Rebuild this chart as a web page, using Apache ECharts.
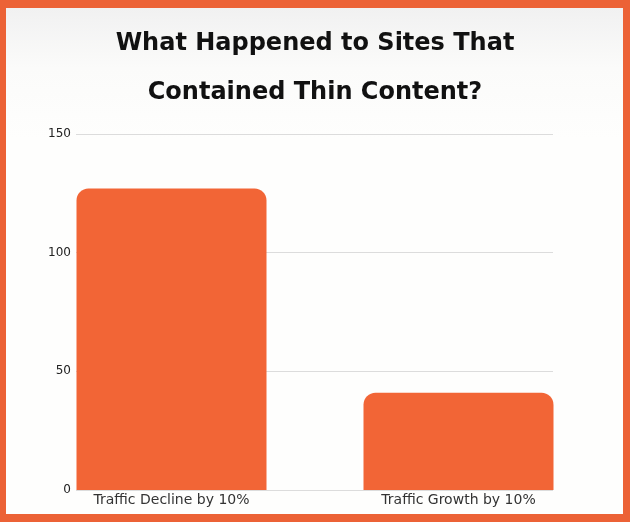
<!DOCTYPE html>
<html>
<head>
<meta charset="utf-8">
<script src="https://cdn.jsdelivr.net/npm/echarts@6/dist/echarts.min.js"></script>
<style>
  html, body { margin: 0; padding: 0; }
  body { width: 630px; height: 522px; background: #ec6236; position: relative; overflow: hidden; }
  #card { position: absolute; left: 6px; top: 8px; width: 617px; height: 506px;
          background: linear-gradient(to bottom, #f1f1f1 0px, #fbfbfa 60px, #fefefd 130px, #fefefd 100%); }
  #main { position: absolute; left: 0; top: 0; width: 630px; height: 522px; }
</style>
</head>
<body>
<div id="card"></div>
<div id="main"></div>
<script>
var categories = ['Traffic Decline by 10%', 'Traffic Growth by 10%'];
var siteCounts = [127, 41];
var yTicks = { min: 0, max: 150, step: 50 };

var myChart = echarts.init(document.getElementById('main'));

var option = {
    backgroundColor: 'transparent',
    title: {
        text: 'What Happened to Sites That\nContained Thin Content?',
        left: 'center',
        top: 14,
        textStyle: {
            fontFamily: 'DejaVu Sans',
            fontWeight: 'bold',
            fontSize: 24,
            lineHeight: 49,
            color: '#111'
        }
    },
    grid: [
        { left: 76, right: 77, top: 134, bottom: 32 },
        { left: 28, right: 28, top: 134, bottom: 32 }
    ],
    xAxis: [
        { gridIndex: 0, type: 'category', data: categories, show: false },
        {
            gridIndex: 1,
            type: 'category',
            data: categories,
            axisLine: { show: false },
            axisTick: { show: false },
            axisLabel: { margin: 3, fontSize: 14, color: '#333', fontFamily: 'DejaVu Sans' }
        }
    ],
    yAxis: [
        {
            gridIndex: 0,
            type: 'value',
            min: yTicks.min,
            max: yTicks.max,
            interval: yTicks.step,
            axisLine: { show: false },
            axisTick: { show: false },
            axisLabel: { margin: 5, fontSize: 12, color: '#222', fontFamily: 'DejaVu Sans' },
            splitLine: { lineStyle: { color: '#dcdcdc', width: 1 } }
        },
        {
            gridIndex: 1,
            type: 'value',
            min: yTicks.min,
            max: yTicks.max,
            interval: yTicks.step,
            show: false,
            splitLine: { show: false }
        }
    ],
    series: [{
        type: 'bar',
        xAxisIndex: 1,
        yAxisIndex: 1,
        data: siteCounts,
        barWidth: 190,
        itemStyle: { color: '#f26536', borderRadius: [12, 12, 0, 0] }
    }]
};
myChart.setOption(option);
</script>
</body>
</html>
